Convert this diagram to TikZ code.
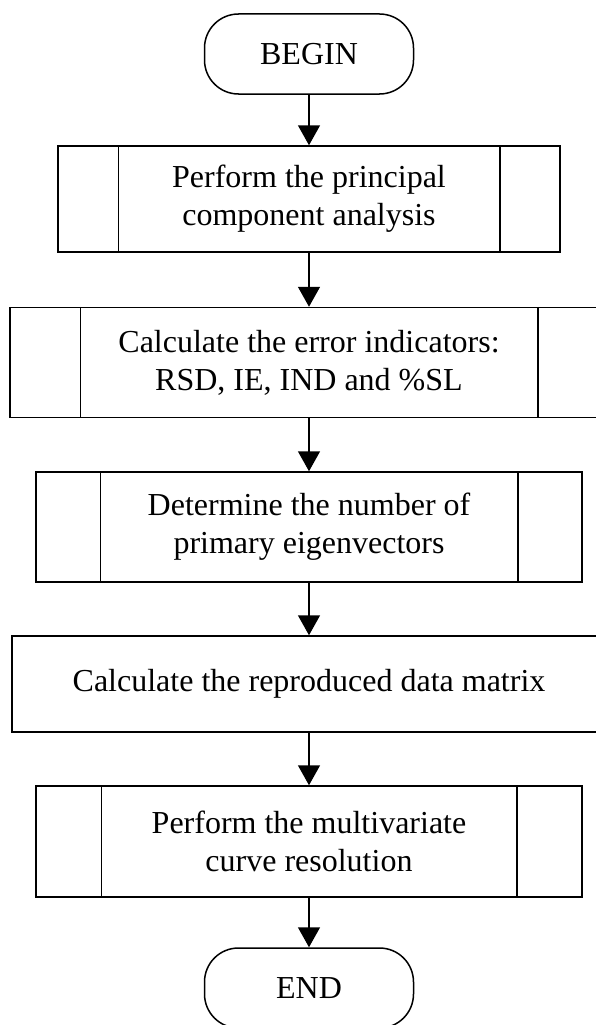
\documentclass[tikz,border=0pt]{standalone}
\usepackage{fontspec}
\setmainfont{Liberation Serif}
\usetikzlibrary{arrows.meta}

\begin{document}
\begin{tikzpicture}[x=1pt, y=-1pt, font=\fontsize{32}{38}\selectfont]
    % Define styles
    \tikzset{
        terminal/.style={
            draw,
            rectangle,
            rounded corners=34pt,
            line width=1.5pt,
            minimum width=209pt,
            minimum height=80pt,
            inner sep=0pt
        },
        process/.style={
            draw,
            rectangle,
            line width=1.5pt,
            inner sep=0pt,
            align=center
        },
        flow/.style={
            -{Triangle[length=20pt, width=22pt]},
            line width=1.5pt
        }
    }

    % Page frame
    \useasboundingbox (0,0) rectangle (596,1025);

    % Start and stop
    \node[terminal] (start) at (309,54) {BEGIN};
    \node[terminal] (stop) at (309,988) {END};

    % Steps
    \node[process, minimum width=502pt, minimum height=106pt] (pca) at (309,199)
        {Perform the principal\\component analysis};
    \node[process, minimum width=598pt, minimum height=110pt] (errind) at (309,362.5)
        {Calculate the error indicators:\\RSD, IE, IND and \%SL};
    \node[process, minimum width=546pt, minimum height=110pt] (numev) at (309,527)
        {Determine the number of\\primary eigenvectors};
    \node[process, minimum width=594pt, minimum height=96pt] (repro) at (309,684)
        {Calculate the reproduced data matrix};
    \node[process, minimum width=546pt, minimum height=111pt] (mcr) at (309,841.5)
        {Perform the multivariate\\curve resolution};

    % Side bars of the predefined steps
    \foreach \n/\d in {pca/61, errind/71, numev/65, mcr/66} {
        \draw[line width=1.5pt] ([xshift=\d pt]\n.north west) -- ([xshift=\d pt]\n.south west);
        \draw[line width=1.5pt] ([xshift=-\d pt]\n.north east) -- ([xshift=-\d pt]\n.south east);
    }

    % Arrows
    \foreach \a/\b in {start/pca, pca/errind, errind/numev, numev/repro, repro/mcr, mcr/stop}
        \draw[flow] (\a.south) -- (\b.north);
\end{tikzpicture}
\end{document}
